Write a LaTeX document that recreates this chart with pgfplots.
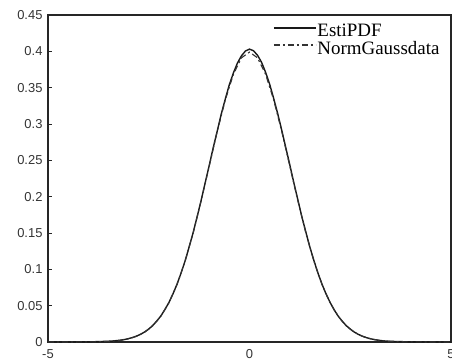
\documentclass[border=0pt]{standalone}
\usepackage{pgfplots}
\pgfplotsset{compat=1.18}
\usepackage{fontspec}
\setmainfont{Liberation Sans}
\newfontfamily\legfont{Liberation Serif}
\pgfplotstableread{
x y
-5.0 0.0000
-4.0 0.0001
-3.5 0.0010
-3.4 0.0014
-3.3 0.0019
-3.2 0.0025
-3.1 0.0034
-3.0 0.0047
-2.9 0.0062
-2.8 0.0082
-2.7 0.0107
-2.6 0.0139
-2.5 0.0178
-2.4 0.0228
-2.3 0.0289
-2.2 0.0358
-2.1 0.0446
-2.0 0.0543
-1.9 0.0661
-1.8 0.0793
-1.7 0.0946
-1.6 0.1112
-1.5 0.1304
-1.4 0.1502
-1.3 0.1722
-1.2 0.1950
-1.1 0.2190
-1.0 0.2428
-0.9 0.2675
-0.8 0.2905
-0.7 0.3139
-0.6 0.3345
-0.5 0.3542
-0.4 0.3702
-0.3 0.3838
-0.2 0.3938
-0.1 0.4005
0.0 0.4030
0.1 0.4008
0.2 0.3945
0.3 0.3848
0.4 0.3710
0.5 0.3548
0.6 0.3352
0.7 0.3142
0.8 0.2915
0.9 0.2676
1.0 0.2438
1.1 0.2192
1.2 0.1957
1.3 0.1722
1.4 0.1510
1.5 0.1302
1.6 0.1118
1.7 0.0946
1.8 0.0795
1.9 0.0660
2.0 0.0545
2.1 0.0443
2.2 0.0357
2.3 0.0286
2.4 0.0226
2.5 0.0177
2.6 0.0137
2.7 0.0105
2.8 0.0080
2.9 0.0060
3.0 0.0045
3.1 0.0033
3.2 0.0024
3.3 0.0017
3.4 0.0012
3.5 0.0009
4.0 0.0001
5.0 0.0000
}\esti
\pgfplotstableread{
x y
-5.0 0.0000
-4.5 0.00002
-4.0 0.00013
-3.8 0.00029
-3.6 0.00061
-3.4 0.00123
-3.2 0.00238
-3.0 0.00443
-2.8 0.00792
-2.6 0.01358
-2.4 0.02239
-2.2 0.03547
-2.0 0.05399
-1.8 0.07895
-1.6 0.11092
-1.4 0.14973
-1.2 0.19419
-1.0 0.24197
-0.8 0.28969
-0.6 0.33322
-0.4 0.36827
-0.2 0.39104
0.0 0.39894
0.2 0.39104
0.4 0.36827
0.6 0.33322
0.8 0.28969
1.0 0.24197
1.2 0.19419
1.4 0.14973
1.6 0.11092
1.8 0.07895
2.0 0.05399
2.2 0.03547
2.4 0.02239
2.6 0.01358
2.8 0.00792
3.0 0.00443
3.2 0.00238
3.4 0.00123
3.6 0.00061
3.8 0.00029
4.0 0.00013
4.5 0.00002
5.0 0.0000
}\gauss
\begin{document}
\begin{tikzpicture}
\begin{axis}[
  name=ax,
  scale only axis,
  width=403bp, height=327bp,
  xmin=-5, xmax=5, ymin=0, ymax=0.45,
  xtick={-5,0,5},
  ytick={0,0.05,0.1,0.15,0.2,0.25,0.3,0.35,0.4,0.45},
  yticklabel style={/pgf/number format/fixed, /pgf/number format/precision=2},
  /pgf/number format/assume math mode=true,
  tick label style={font=\fontsize{13}{13}\selectfont, color=black!80},
  tick pos=left,
  tick align=inside,
  major tick length=4bp,
  axis line style={line width=1.5bp, color=black!85},
  ytick style={line width=0.8bp, black!85},
  xtick style={draw=none},
  xticklabel style={yshift=-4bp},
  yticklabel style={xshift=-2bp},
  legend cell align=left,
  legend style={draw=none, fill=none, at={(rel axis cs:0.558,0.975)}, anchor=north west,
    font=\legfont\fontsize{19}{19}\selectfont, row sep=2bp, inner sep=0pt,
    nodes={inner sep=1bp, text depth=0pt}},
  legend image code/.code={\draw[#1] (0bp,2.5bp) -- (42bp,2.5bp);},
]
\addplot[line width=1.4bp, black!90] table[x=x,y=y] {\esti};
\addlegendentry{EstiPDF}
\addplot[line width=1.1bp, black!80, dash pattern=on 6bp off 3bp on 2bp off 3bp] table[x=x,y=y] {\gauss};
\addlegendentry{NormGaussdata}
\end{axis}
\pgfresetboundingbox
\path ([xshift=-48bp,yshift=-20bp]ax.south west) rectangle ([xshift=1bp,yshift=15bp]ax.north east);
\end{tikzpicture}
\end{document}
